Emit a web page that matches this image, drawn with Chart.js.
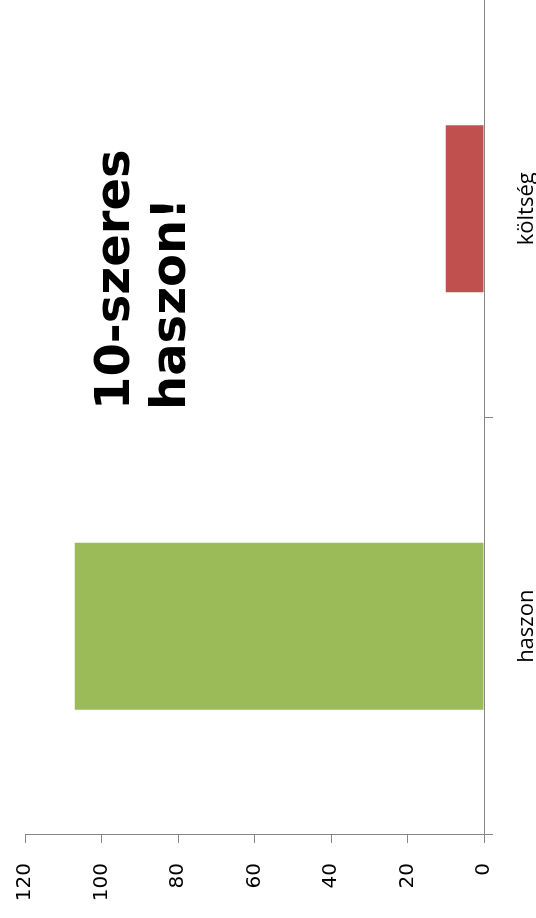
<!DOCTYPE html>
<html>
<head>
<meta charset="utf-8">
<script src="https://cdn.jsdelivr.net/npm/chart.js@4/dist/chart.umd.min.js"></script>
<style>
    html, body { margin: 0; padding: 0; background: #fff; overflow: hidden; }
    body { width: 536px; height: 918px; position: relative; }
    /* chart is drawn upright and then turned a quarter turn to the left */
    #wrap {
        position: absolute; left: 0; top: 0;
        width: 918px; height: 536px;
        transform-origin: 0 0;
        transform: translate(0, 918px) rotate(-90deg);
    }
</style>
</head>
<body>
<div id="wrap"><canvas id="chart" width="918" height="536"></canvas></div>
<script>
/* ---------------------------------------------------
   Data
---------------------------------------------------*/

const categories = ["haszon", "költség"];
const values = [107, 10];
const barColors = ["#9BBB59", "#C0504D"];
const yTicks = [0, 20, 40, 60, 80, 100, 120];
const noteLines = ["10-szeres", "haszon!"];

const axisGray = "#868686";

/* ---------------------------------------------------
   Big note text
---------------------------------------------------*/

const notePlugin = {
    id: "note",
    afterDraw(chart) {
        const ctx = chart.ctx;
        ctx.save();
        ctx.fillStyle = "#000";
        ctx.font = "bold 48px 'DejaVu Sans'";
        ctx.textBaseline = "alphabetic";
        ctx.textAlign = "left";
        ctx.fillText(noteLines[0], 508, 129);
        ctx.fillText(noteLines[1], 508, 185);
        ctx.restore();
    }
};

/* ---------------------------------------------------
   Chart
---------------------------------------------------*/

new Chart(document.getElementById("chart"), {
    type: "bar",
    data: {
        labels: categories,
        datasets: [{
            data: values,
            backgroundColor: barColors,
            barPercentage: 0.4,
            categoryPercentage: 1
        }]
    },
    options: {
        responsive: false,
        devicePixelRatio: 1,
        animation: false,
        layout: { padding: { top: 25, right: 0, left: 0, bottom: 0 } },
        plugins: {
            legend: { display: false },
            tooltip: { enabled: false }
        },
        scales: {
            x: {
                offset: true,
                grid: {
                    offset: true,
                    drawOnChartArea: false,
                    color: axisGray,
                    tickLength: 9
                },
                border: { color: axisGray, width: 1 },
                ticks: {
                    color: "#000",
                    padding: 21,
                    maxRotation: 0,
                    font: { family: "'Open Sans'", size: 22 }
                },
                afterFit: scale => {
                    scale.height = 52;
                    scale.paddingLeft = 0;
                    scale.paddingRight = 0;
                }
            },
            y: {
                min: 0,
                max: 120,
                afterBuildTicks: scale => {
                    scale.ticks = yTicks.map(v => ({ value: v }));
                },
                grid: {
                    drawOnChartArea: false,
                    color: axisGray,
                    tickLength: 8
                },
                border: { color: axisGray, width: 1 },
                ticks: {
                    color: "#000",
                    padding: 20,
                    font: { family: "'DejaVu Sans'", size: 20 }
                },
                afterFit: scale => {
                    scale.width = 83;
                    scale.paddingTop = 0;
                    scale.paddingBottom = 0;
                }
            }
        }
    },
    plugins: [notePlugin]
});
</script>
</body>
</html>
